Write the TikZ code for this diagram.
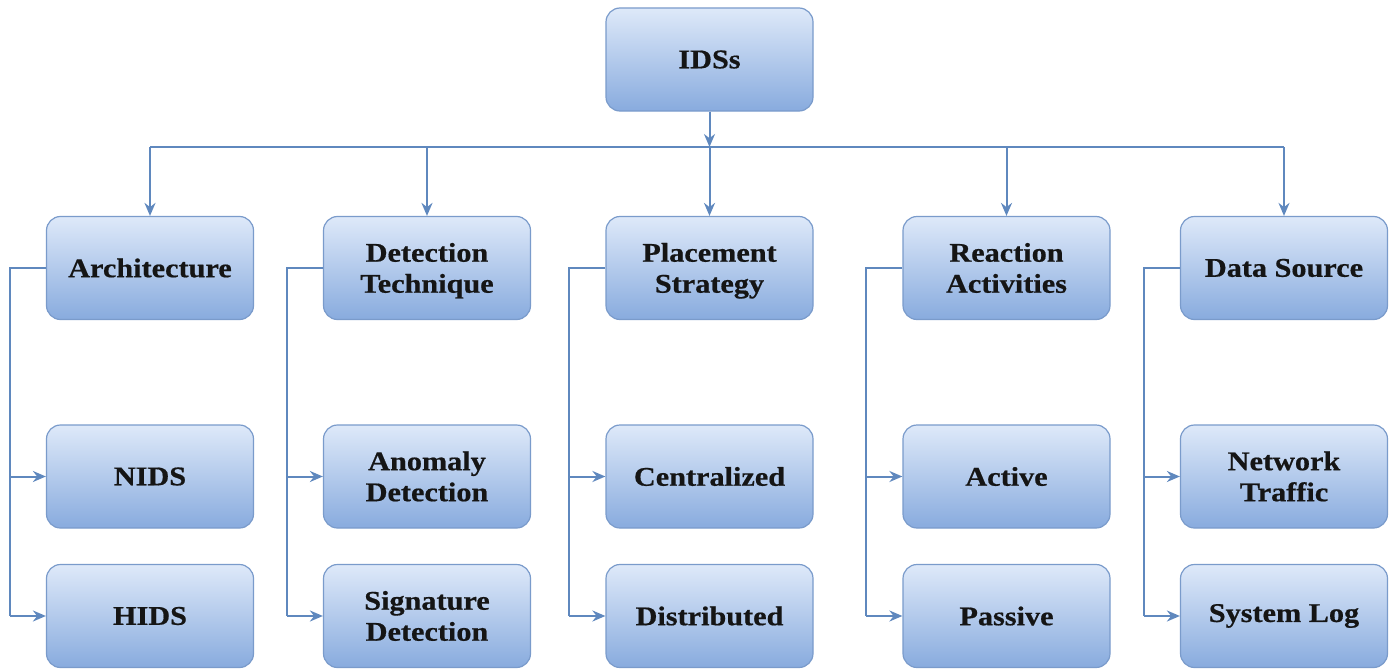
\documentclass[tikz,border=0pt]{standalone}
\usepackage{fontspec}
\setmainfont{Liberation Serif}
\newfontfamily\boxfont[FakeStretch=1.12,FakeBold=0.6]{Liberation Serif}
\usetikzlibrary{arrows.meta,calc}
\definecolor{boxtop}{HTML}{DEE9F9}
\definecolor{boxbot}{HTML}{88ABDE}
\definecolor{boxline}{HTML}{7A9BCB}
\definecolor{conncol}{HTML}{5F88BE}
\definecolor{textcol}{HTML}{151515}
\newcommand\twoline[2]{\raisebox{-3pt}[\height][\depth]{\begin{tabular}{@{}c@{}}#1\\#2\end{tabular}}}
\begin{document}
\begin{tikzpicture}[x=1pt,y=-1pt,
  box/.style={rounded corners=14pt, draw=boxline, line width=1.2pt,
    top color=boxtop, bottom color=boxbot, minimum width=207pt,
    minimum height=103pt, align=center, inner sep=0pt, text=textcol,
    font=\boxfont\bfseries\fontsize{27}{31}\selectfont},
  conn/.style={draw=conncol, line width=2pt},
  arr/.style={conn, -{Stealth[length=13pt,width=11pt]}}]
\useasboundingbox (0,0) rectangle (1395,669);
\node[box] (ids) at (709.5,59.5) {IDSs};
% row 1
\node[box] (arch) at (150,268) {Architecture};
\node[box] (det) at (427,268) {\twoline{Detection}{Technique}};
\node[box] (plc) at (709.5,268) {\twoline{Placement}{Strategy}};
\node[box] (rea) at (1006.5,268) {\twoline{Reaction}{Activities}};
\node[box] (dat) at (1284,268) {Data Source};
% row 2
\node[box] (nids) at (150,476.5) {NIDS};
\node[box] (ano) at (427,476.5) {\twoline{Anomaly}{Detection}};
\node[box] (cen) at (709.5,476.5) {Centralized};
\node[box] (act) at (1006.5,476.5) {Active};
\node[box] (net) at (1284,476.5) {\twoline{Network}{Traffic}};
% row 3
\node[box] (hids) at (150,616) {HIDS};
\node[box] (sig) at (427,616) {\twoline{Signature}{Detection}};
\node[box] (dis) at (709.5,616) {Distributed};
\node[box] (pas) at (1006.5,616) {Passive};
\node[box] (sys) at (1284,616) {System Log};
% bus
\coordinate (bus) at (709.5,147);
\draw[arr] (ids.south) -- (bus);
\draw[conn] (arch.north |- bus) -- (dat.north |- bus);
\foreach \n in {arch,det,plc,rea,dat}
  \draw[arr] (\n.north |- bus) -- (\n.north);
% side connectors
\foreach \a/\b/\c in {arch/nids/hids, det/ano/sig, plc/cen/dis, rea/act/pas, dat/net/sys}{
  \coordinate (\a-side) at ($(\a.west)+(-36,0)$);
  \draw[conn] (\a.west) -- (\a-side) -- (\a-side |- \c.west);
  \draw[arr] (\a-side |- \b.west) -- (\b.west);
  \draw[arr] (\a-side |- \c.west) -- (\c.west);
}
\end{tikzpicture}
\end{document}
